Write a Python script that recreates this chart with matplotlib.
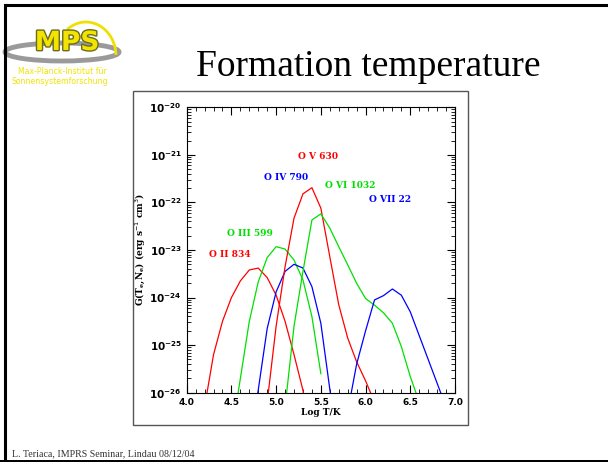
"""
Slide: Formation temperature of oxygen lines (contribution functions)
"""
import numpy as np
import matplotlib.pyplot as plt
import matplotlib.patheffects as pe
from matplotlib.patches import Rectangle, Arc, Ellipse
from matplotlib.ticker import MultipleLocator, LogLocator, NullFormatter, FormatStrFormatter

W, H = 608, 462

# ── Data (log T, log G) ───────────────────────────────────────────────
o2_t = [4.20, 4.30, 4.40, 4.50, 4.60, 4.70, 4.80, 4.90, 5.00, 5.10, 5.20, 5.30, 5.32]
o2_g = [-26.3, -25.2, -24.5, -24.0, -23.65, -23.42, -23.38, -23.58, -23.95, -24.5, -25.2, -25.95, -26.2]

o3_t = [4.55, 4.70, 4.80, 4.90, 5.00, 5.10, 5.20, 5.30, 5.40, 5.50]
o3_g = [-26.3, -24.5, -23.67, -23.16, -22.93, -22.98, -23.21, -23.63, -24.40, -25.60]

o4_t = [4.78, 4.90, 5.00, 5.10, 5.20, 5.30, 5.40, 5.50, 5.62]
o4_g = [-26.2, -24.65, -23.88, -23.45, -23.30, -23.38, -23.77, -24.54, -26.2]

o5_t = [4.90, 5.00, 5.10, 5.20, 5.30, 5.40, 5.50, 5.60, 5.70, 5.80, 5.90, 6.00, 6.10]
o5_g = [-26.2, -24.6, -23.35, -22.33, -21.82, -21.69, -22.12, -23.14, -24.15, -24.85, -25.35, -25.75, -26.2]

o6_t = [5.10, 5.20, 5.30, 5.40, 5.50, 5.60, 5.70, 5.80, 5.90, 6.00, 6.10, 6.20, 6.30, 6.40, 6.50, 6.60]
o6_g = [-26.3, -24.6, -23.45, -22.37, -22.24, -22.54, -22.93, -23.31, -23.70, -24.02, -24.16, -24.32, -24.54, -25.03, -25.66, -26.2]

o7_t = [5.82, 5.90, 6.00, 6.10, 6.20, 6.30, 6.40, 6.50, 6.60, 6.70, 6.88]
o7_g = [-26.2, -25.4, -24.7, -24.05, -23.96, -23.82, -23.95, -24.30, -24.80, -25.30, -26.2]

curves = [(o2_t, o2_g, "red"), (o3_t, o3_g, "#00e000"), (o4_t, o4_g, "blue"),
          (o5_t, o5_g, "red"), (o6_t, o6_g, "#00e000"), (o7_t, o7_g, "blue")]

labels = [("O V 630", 5.25, -21.04, "red"),
          ("O IV 790", 4.86, -21.47, "blue"),
          ("O VI 1032", 5.55, -21.65, "#00e000"),
          ("O VII 22", 6.04, -21.93, "blue"),
          ("O III 599", 4.45, -22.65, "#00e000"),
          ("O II 834", 4.25, -23.09, "red")]

fig = plt.figure(figsize=(W / 100, H / 100), dpi=100)
fig.patch.set_facecolor("white")

# ── slide overlay in pixel coords ─────────────────────────────────────
bg = fig.add_axes([0, 0, 1, 1])
bg.set_xlim(0, W)
bg.set_ylim(H, 0)
bg.axis("off")

# slide frame
bg.plot([4.5, W], [5, 5], color="black", lw=2.2, zorder=5)
bg.plot([4.5, 4.5], [5, H], color="black", lw=2.2, zorder=5)
bg.add_patch(Rectangle((0, 459.5), W, 5, fc="black", ec="none", zorder=5))

# plot panel frame
bg.add_patch(Rectangle((133, 91), 335, 334, fill=False, ec="#555555", lw=1.0))

# logo
bg.add_patch(Ellipse((62, 52), 114, 18, fill=False, ec="#9a9a9a", lw=3.5))
bg.add_patch(Arc((86, 56), 60, 68, theta1=235, theta2=358, color="#f0e000", lw=2))
bg.text(67, 43, "MPS", fontsize=19, fontweight="bold", color="#f2e400",
        ha="center", va="center", family="DejaVu Sans",
        path_effects=[pe.withStroke(linewidth=2, foreground="#6b6b20")])
bg.text(62, 71, "Max-Planck-Institut für", fontsize=5.6, color="#f2e400",
        ha="center", va="center")
bg.text(60, 82, "Sonnensystemforschung", fontsize=5.6, color="#f2e400",
        ha="center", va="center")

# title + footer
bg.text(368, 67, "Formation temperature", fontsize=27, family="Liberation Serif",
        ha="center", va="center", color="black")
bg.text(12, 454, "L. Teriaca, IMPRS Seminar, Lindau 08/12/04", fontsize=7.2,
        family="Liberation Serif", ha="left", va="center", color="#333333")

# ── chart ─────────────────────────────────────────────────────────────
ax = fig.add_axes([186.7 / W, 1 - 392.7 / H, 268.3 / W, 285.4 / H])
for t, g, c in curves:
    ax.plot(t, 10 ** np.array(g), color=c, lw=0.9)
for s, x, y, c in labels:
    ax.text(x, 10 ** y, s, color=c, fontsize=6.5, fontweight="bold",
            family="DejaVu Serif", ha="left", va="center")

ax.set_yscale("log")
ax.set_xlim(4.0, 7.0)
ax.set_ylim(1e-26, 1e-20)
ax.xaxis.set_major_locator(MultipleLocator(0.5))
ax.xaxis.set_minor_locator(MultipleLocator(0.1))
ax.xaxis.set_major_formatter(FormatStrFormatter("%.1f"))
ax.yaxis.set_major_locator(LogLocator(base=10, numticks=10))
ax.yaxis.set_minor_locator(LogLocator(base=10, subs=np.arange(2, 10), numticks=10))
ax.yaxis.set_minor_formatter(NullFormatter())
ax.tick_params(which="both", direction="in", top=True, right=True)
ax.tick_params(axis="x", labelsize=6.5)
ax.tick_params(axis="y", labelsize=7.5)
ax.tick_params(which="major", length=6, width=0.8)
ax.tick_params(which="minor", length=3, width=0.6)
for lab in ax.get_xticklabels() + ax.get_yticklabels():
    lab.set_fontweight("bold")
for sp in ax.spines.values():
    sp.set_linewidth(0.8)
ax.set_xlabel("Log T/K", fontsize=6.5, fontweight="bold", family="DejaVu Serif",
              labelpad=1)
ax.set_ylabel(r"G(T$_\mathregular{e}$,N$_\mathregular{e}$) (erg s$^{-1}$ cm$^3$)",
              fontsize=6.5, fontweight="bold", family="DejaVu Serif", labelpad=2)

fig.savefig("out.png", dpi=100, facecolor="white")
